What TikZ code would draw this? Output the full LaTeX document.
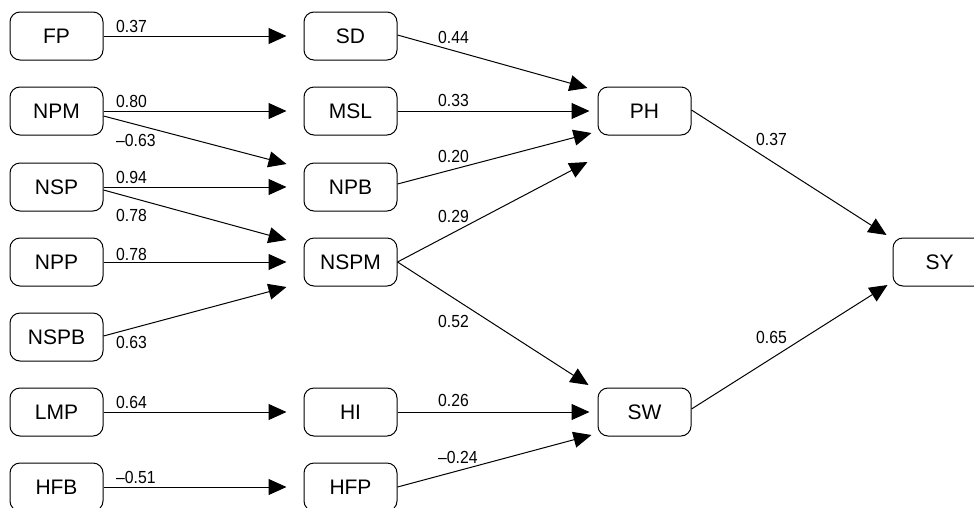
\documentclass[tikz,border=0pt]{standalone}
\usepackage{fontspec}
\setmainfont{Liberation Sans}
\newfontfamily\coeffont[FakeStretch=0.9]{Liberation Sans}
\usetikzlibrary{arrows.meta}
\begin{document}
\begin{tikzpicture}[x=1pt,y=-1pt,
  var/.style={draw, rounded corners=10pt, minimum width=93pt, minimum height=48pt,
    inner sep=0pt, line width=1pt, font=\fontsize{21}{25}\selectfont},
  link/.style={line width=1pt, -{Triangle[length=18pt,width=16pt]}},
  coef/.style={anchor=base west, inner sep=0pt, font=\coeffont\fontsize{17.5}{20}\selectfont}]
\useasboundingbox (0,0) rectangle (974,507);
\clip (0,0) rectangle (974,507);

% observed traits, first column
\node[var] (fp)   at (56.5,36)  {FP};
\node[var] (npm)  at (56.5,111) {NPM};
\node[var] (nsp)  at (56.5,187) {NSP};
\node[var] (npp)  at (56.5,262) {NPP};
\node[var] (nspb) at (56.5,337) {NSPB};
\node[var] (lmp)  at (56.5,412) {LMP};
\node[var] (hfb)  at (56.5,487) {HFB};

% second column
\node[var] (sd)   at (350.5,36)  {SD};
\node[var] (msl)  at (350.5,111) {MSL};
\node[var] (npb)  at (350.5,187) {NPB};
\node[var] (nspm) at (350.5,262) {NSPM};
\node[var] (hi)   at (350.5,412) {HI};
\node[var] (hfp)  at (350.5,487) {HFP};

% third column and yield
\node[var] (ph) at (644.5,111) {PH};
\node[var] (sw) at (644.5,412) {SW};
\node[var] (sy) at (939.5,262) {SY};

% paths
\draw[link] (fp.east) -- ([xshift=-17pt]sd.west);
\draw[link] (npm.east) -- ([xshift=-17pt]msl.west);
\draw[link] ([yshift=-5pt]npm.east) -- ([shift={(-17pt,23pt)}]npb.west);
\draw[link] (nsp.east) -- ([xshift=-17pt]npb.west);
\draw[link] ([yshift=-3pt]nsp.east) -- ([shift={(-17pt,22pt)}]nspm.west);
\draw[link] (npp.east) -- ([xshift=-17pt]nspm.west);
\draw[link] ([yshift=1pt]nspb.east) -- ([shift={(-17pt,-25pt)}]nspm.west);
\draw[link] (lmp.east) -- ([xshift=-17pt]hi.west);
\draw[link] (hfb.east) -- ([xshift=-17pt]hfp.west);

\draw[link] ([yshift=1pt]sd.east) -- ([shift={(-10pt,23pt)}]ph.west);
\draw[link] (msl.east) -- ([xshift=-8pt]ph.west);
\draw[link] ([yshift=3pt]npb.east) -- ([shift={(-6pt,-22pt)}]ph.west);
\draw[link] (nspm.east) -- ([shift={(-10pt,-51pt)}]ph.west);
\draw[link] (nspm.east) -- ([shift={(-9pt,27pt)}]sw.west);
\draw[link] (hi.east) -- ([xshift=-8pt]sw.west);
\draw[link] (hfp.east) -- ([shift={(-6pt,-23pt)}]sw.west);

\draw[link] ([yshift=1pt]ph.east) -- ([shift={(-6pt,27pt)}]sy.west);
\draw[link] ([yshift=3pt]sw.east) -- ([shift={(-5pt,-23pt)}]sy.west);

% path coefficients
\node[coef] (c1) at (116,32)  {0.37};
\node[coef] (c2) at (116,107) {0.80};
\node[coef] (c3) at (116,146) {–0.63};
\node[coef] (c4) at (116,183) {0.94};
\node[coef] (c5) at (116,221) {0.78};
\node[coef] (c6) at (116,260) {0.78};
\node[coef] (c7) at (116,348) {0.63};
\node[coef] (c8) at (116,408) {0.64};
\node[coef] (c9) at (116,483) {–0.51};

\node[coef] (d1) at (438,43)  {0.44};
\node[coef] (d2) at (438,106) {0.33};
\node[coef] (d3) at (438,162) {0.20};
\node[coef] (d4) at (438,222) {0.29};
\node[coef] (d5) at (438,327) {0.52};
\node[coef] (d6) at (438,406) {0.26};
\node[coef] (d7) at (438,463) {–0.24};

\node[coef] (e1) at (756,145) {0.37};
\node[coef] (e2) at (756,343) {0.65};
\end{tikzpicture}
\end{document}
